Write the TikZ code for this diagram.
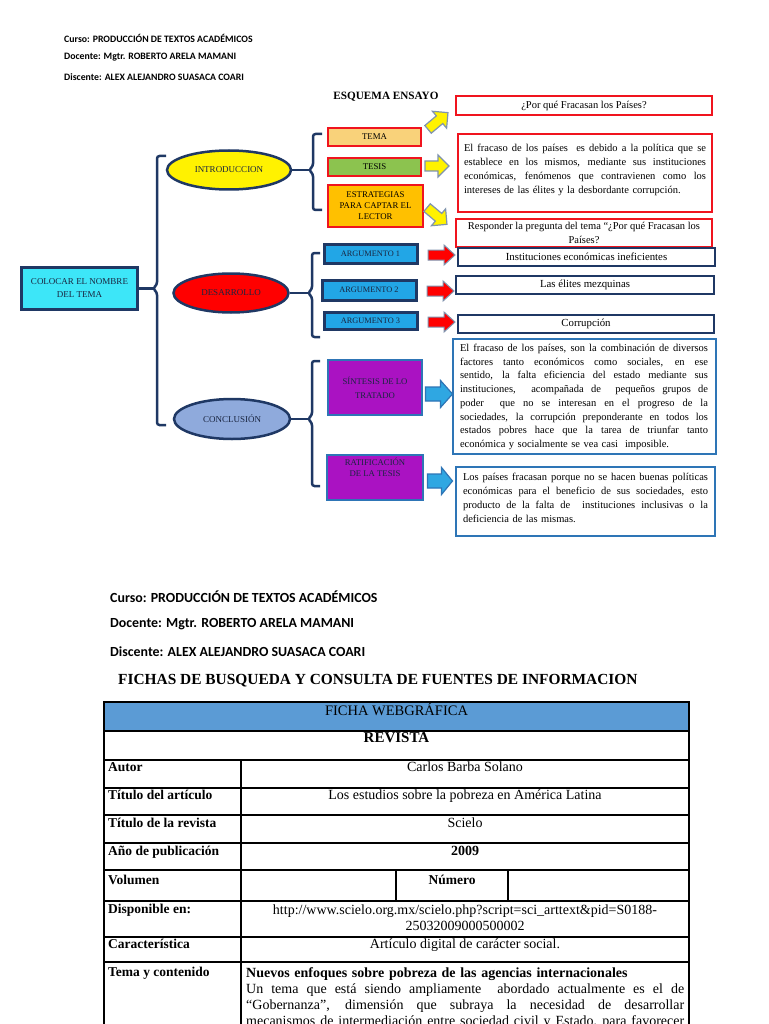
\documentclass[tikz,border=0pt]{standalone}
\usepackage{fontspec}
\setmainfont{Liberation Serif}
\newfontfamily\hdr{Carlito}
\usetikzlibrary{shapes.geometric}
\definecolor{navy}{HTML}{1F3864}
\definecolor{bred}{HTML}{F0141E}
\definecolor{cyanbox}{HTML}{3DE6F8}
\definecolor{temaor}{HTML}{F9D27A}
\definecolor{tesisgr}{HTML}{8CC34F}
\definecolor{estror}{HTML}{FFC000}
\definecolor{argblue}{HTML}{22A6E6}
\definecolor{purp}{HTML}{AA12C2}
\definecolor{midblue}{HTML}{2E75B6}
\definecolor{lavend}{HTML}{8FAADC}
\definecolor{arrgray}{HTML}{7F93AE}
\definecolor{arrblue}{HTML}{2FA7E2}
\definecolor{hdrblue}{HTML}{5B9BD5}
\definecolor{txtnavy}{HTML}{1A2540}
\newcommand\JL[2]{\makebox[#1pt][s]{\spaceskip=0pt\xspaceskip=0pt\relax #2}}
% block arrow: #1 options, #2 centre, #3 rotation, #4 half length, #5 shaft half width, #6 head half width, #7 head length
\newcommand\blockarrow[7]{%
  \path[#1, shift={#2}, rotate=#3]
    (-#4,-#5) -- ({#4-#7},-#5) -- ({#4-#7},-#6) -- (#4,0) -- ({#4-#7},#6) -- ({#4-#7},#5) -- (-#4,#5) -- cycle;}
\begin{document}
\begin{tikzpicture}[x=1pt,y=-1pt,
  hdrsmall/.style={font=\hdr\bfseries\fontsize{9.8}{11}\selectfont, inner sep=0, anchor=west},
  hdrbig/.style={font=\hdr\bfseries\fontsize{13.9}{16}\selectfont, inner sep=0, anchor=west},
  bx/.style={rectangle, inner sep=0, align=center},
  navybox/.style={bx, draw=navy, line width=3pt, text=txtnavy, font=\fontsize{8.3}{9}\selectfont},
  redbox/.style={bx, draw=bred, line width=2.5pt, font=\fontsize{8.8}{11}\selectfont},
  purpbox/.style={bx, draw=midblue, line width=2.5pt, fill=purp, text=txtnavy, font=\fontsize{8.7}{14}\selectfont},
  ell/.style={ellipse, draw=navy, line width=2.5pt, inner sep=0, text=txtnavy, font=\fontsize{9}{10}\selectfont},
  qbox/.style={bx, draw=bred, line width=2pt, fill=white, font=\fontsize{10.5}{14}\selectfont},
  dbox/.style={bx, draw=navy, line width=2pt, fill=white, font=\fontsize{10.8}{14}\selectfont},
  cbox/.style={bx, draw=midblue, line width=2.5pt, fill=white},
  para/.style={inner sep=0, align=left, font=\fontsize{10.5}{14}\selectfont},
  brace/.style={draw=navy, line width=2.5pt, rounded corners=2.5pt},
  conn/.style={draw=navy, line width=2.5pt},
  yarr/.style={draw=arrgray, fill=yellow, line width=1.2pt, line join=miter},
  rarr/.style={draw=arrgray, fill=red, line width=1pt, line join=miter},
  barr/.style={draw=midblue, fill=arrblue, line width=1.2pt, line join=miter},
  tline/.style={draw=black, line width=1.2pt},
  tval/.style={inner sep=0, anchor=north, font=\fontsize{14}{16}\selectfont},
  tlab/.style={inner sep=0, anchor=north west, font=\bfseries\fontsize{13.5}{16}\selectfont}
]
\useasboundingbox (0,0) rectangle (768,1024);
\clip (0,0) rectangle (768,1024);
\fill[white] (0,0) rectangle (768,1024);

% ---------- header 1
\node[hdrsmall] (h1) at (64,38) {Curso: PRODUCCIÓN DE TEXTOS ACADÉMICOS};
\node[hdrsmall] (h2) at (64,57) {Docente: Mgtr. ROBERTO ARELA MAMANI};
\node[hdrsmall] (h3) at (64,77) {Discente: ALEX ALEJANDRO SUASACA COARI};
\node[inner sep=0, font=\bfseries\fontsize{11.2}{12}\selectfont] (esq) at (386,97) {ESQUEMA ENSAYO};

% ---------- main nodes
\node[navybox, fill=cyanbox, minimum width=116, minimum height=42, font=\fontsize{9}{13}\selectfont] (tema) at (79.5,288.5) {COLOCAR EL NOMBRE\\DEL TEMA};
\node[ell, fill=yellow, minimum width=124, minimum height=39] (intro) at (229,170) {INTRODUCCION};
\node[ell, fill=red, minimum width=115, minimum height=39] (desa) at (231,293) {DESARROLLO};
\node[ell, fill=lavend, minimum width=116, minimum height=40] (concl) at (232,419) {CONCLUSIÓN};

% main brace
\draw[brace] (166,156) -- (157,156) -- (157,284.5) -- (153,288.5) -- (157,292.5) -- (157,425) -- (166,425);
\coordinate (mcusp) at (153,288.5);
\draw[conn] (tema.east) -- (mcusp);

% ---------- introduccion
\draw[brace] (322,134) -- (313,134) -- (313,166) -- (309,170) -- (313,174) -- (313,210) -- (322,210);
\coordinate (icusp) at (309,170);
\draw[conn] (intro.east) -- (icusp);
\node[redbox, fill=temaor, minimum width=93, minimum height=18] (btema) at (374.5,137) {TEMA};
\node[redbox, fill=tesisgr, minimum width=93, minimum height=18] (btesis) at (374.5,167) {TESIS};
\node[redbox, fill=estror, minimum width=95, minimum height=42] (bestr) at (375.5,206) {ESTRATEGIAS\\PARA CAPTAR EL\\LECTOR};

\blockarrow{yarr}{(438,121)}{40}{13}{5}{11}{11}
\blockarrow{yarr}{(437,166)}{0}{12}{5}{11}{11}
\blockarrow{yarr}{(437,216)}{-40}{13}{5}{11}{11}

\node[qbox, minimum width=256, minimum height=19.5] (q1) at (584,105.5) {¿Por qué Fracasan los Países?};
\node[qbox, minimum width=254, minimum height=78] (q2) at (585,173) {};
\node[para, text width=242, anchor=north] (q2t) at (585,144) {\JL{242}{El fracaso de los países \ es debido a la política que se}\\\JL{242}{establece en los mismos, mediante sus instituciones}\\\JL{242}{económicas, fenómenos que contravienen como los}\\intereses de las élites y la desbordante corrupción.};
\node[qbox, minimum width=256, minimum height=28] (q3) at (584,233) {Responder la pregunta del tema “¿Por qué Fracasan los\\Países?};

% ---------- desarrollo
\draw[brace] (320,253) -- (312,253) -- (312,289) -- (308,293) -- (312,297) -- (312,337) -- (320,337);
\coordinate (dcusp) at (308,293);
\draw[conn] (desa.east) -- (dcusp);
\node[navybox, fill=argblue, minimum width=93, minimum height=19] (g1) at (370.5,253.5) {ARGUMENTO 1};
\node[navybox, fill=argblue, minimum width=94, minimum height=20] (g2) at (369,290) {ARGUMENTO 2};
\node[navybox, fill=argblue, minimum width=93, minimum height=17] (g3) at (370.5,320.5) {ARGUMENTO 3};
\blockarrow{rarr}{(441.5,255)}{0}{13.5}{5}{10}{11}
\blockarrow{rarr}{(440.5,291)}{0}{13.5}{5}{10}{11}
\blockarrow{rarr}{(441.5,322)}{0}{13.5}{5}{10}{11}
\node[dbox, minimum width=257, minimum height=18] (d1) at (586.5,257) {Instituciones económicas ineficientes};
\node[dbox, minimum width=258, minimum height=18] (d2) at (585,285) {Las élites mezquinas};
\node[dbox, minimum width=256, minimum height=18] (d3) at (586,324) {Corrupción};

% ---------- conclusion
\draw[brace] (320,361) -- (312,361) -- (312,415) -- (308,419) -- (312,423) -- (312,486) -- (320,486);
\coordinate (ccusp) at (308,419);
\draw[conn] (concl.east) -- (ccusp);
\node[purpbox, minimum width=94, minimum height=55] (s1) at (375,387.5) {SÍNTESIS DE LO\\TRATADO};
\node[purpbox, minimum width=96, minimum height=45, label={[inner sep=0, anchor=north, align=center, text=txtnavy, font=\fontsize{8.7}{11.5}\selectfont, yshift=-4pt]north:RATIFICACIÓN\\DE LA TESIS}] (s2) at (375,477.5) {};
\blockarrow{barr}{(439,394)}{0}{13.5}{7}{13.5}{12}
\blockarrow{barr}{(440,481)}{0}{12.5}{7}{13.5}{11}
\node[cbox, minimum width=263, minimum height=115] (c1) at (584.5,396.5) {};
\node[para, text width=248, anchor=north, font=\fontsize{10.5}{13.7}\selectfont] (c1t) at (584,344) {\JL{248}{El fracaso de los países, son la combinación de diversos}\\\JL{248}{factores tanto económicos como sociales, en ese}\\\JL{248}{sentido, la falta eficiencia del estado mediante sus}\\\JL{248}{instituciones, \ acompañada de \ pequeños grupos de}\\\JL{248}{poder \ que no se interesan en el progreso de la}\\\JL{248}{sociedades, la corrupción preponderante en todos los}\\\JL{248}{estados pobres hace que la tarea de triunfar tanto}\\económica y socialmente se vea casi \ imposible.};
\node[cbox, minimum width=259, minimum height=69] (c2) at (585.5,501.5) {};
\node[para, text width=245, anchor=north] (c2t) at (585.5,473) {\JL{245}{Los países fracasan porque no se hacen buenas políticas}\\\JL{245}{económicas para el beneficio de sus sociedades, esto}\\\JL{245}{producto de la falta de \ instituciones inclusivas o la}\\deficiencia de las mismas.};

% ---------- header 2
\node[hdrbig] (k1) at (110,597) {Curso: PRODUCCIÓN DE TEXTOS ACADÉMICOS};
\node[hdrbig] (k2) at (110,624) {Docente: Mgtr. ROBERTO ARELA MAMANI};
\node[hdrbig] (k3) at (110,652) {Discente: ALEX ALEJANDRO SUASACA COARI};
\node[inner sep=0, anchor=west, font=\bfseries\fontsize{15.4}{18}\selectfont] (ttl) at (118,681) {FICHAS DE BUSQUEDA Y CONSULTA DE FUENTES DE INFORMACION};

% ---------- table
\fill[hdrblue] (104,702) rectangle (689,731);
\draw[tline] (104,702) rectangle (689,1040);
\foreach \yy in {731,760,788,815,843,870,901,937,962} \draw[tline] (104,\yy) -- (689,\yy);
\draw[tline] (241,760) -- (241,1040);
\draw[tline] (396,870) -- (396,901);
\draw[tline] (508,870) -- (508,901);

\node[tval, font=\fontsize{14.5}{16}\selectfont] (t0) at (396.5,703) {FICHA WEBGRÁFICA};
\node[tval, font=\bfseries\fontsize{15}{16}\selectfont] (t1) at (396.5,732) {REVISTA};
\node[tlab] (l1) at (108,762) {Autor};
\node[tval] (v1) at (465,762) {Carlos Barba Solano};
\node[tlab] (l2) at (108,790) {Título del artículo};
\node[tval] (v2) at (465,790) {Los estudios sobre la pobreza en América Latina};
\node[tlab] (l3) at (108,818) {Título de la revista};
\node[tval] (v3) at (465,818) {Scielo};
\node[tlab] (l4) at (108,846) {Año de publicación};
\node[tval, font=\bfseries\fontsize{14}{16}\selectfont] (v4) at (465,846) {2009};
\node[tlab] (l5) at (108,875) {Volumen};
\node[tlab, anchor=north] (l5b) at (452,875) {Número};
\node[tlab] (l6) at (108,904) {Disponible en:};
\node[tval, align=center] (v6) at (465,905) {http://www.scielo.org.mx/scielo.php?script=sci\_arttext\&pid=S0188-\\25032009000500002};
\node[tlab] (l7) at (108,939) {Característica};
\node[tval] (v7) at (465,939) {Artículo digital de carácter social.};
\node[tlab] (l8) at (108,967) {Tema y contenido};
\node[inner sep=0, anchor=north west, text width=438, align=left, font=\fontsize{14}{16.3}\selectfont] (v8) at (246,967) {\textbf{Nuevos enfoques sobre pobreza de las agencias internacionales}\\\JL{438}{Un tema que está siendo ampliamente \ abordado actualmente es el de}\\\JL{438}{“Gobernanza”, dimensión que subraya la necesidad de desarrollar}\\\JL{438}{mecanismos de intermediación entre sociedad civil y Estado, para favorecer}};
\end{tikzpicture}
\end{document}
